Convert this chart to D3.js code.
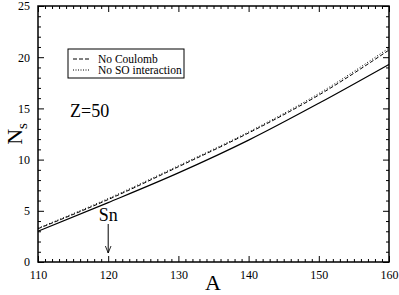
<!DOCTYPE html>
<html>
<head>
<meta charset="utf-8">
<script src="https://cdn.jsdelivr.net/npm/d3@7"></script>
<style>
  body { margin: 0; background: #fff; }
  svg { display: block; }
</style>
</head>
<body>
<div id="chart"></div>
<script>
// data
const massNumbers = [110, 120, 130, 140, 150, 160];
const fullModel   = [3.0, 5.8, 8.7, 11.9, 15.5, 19.3];
const noCoulomb   = [3.25, 6.1, 9.3, 12.6, 16.3, 20.7];
const noSpinOrbit = [3.3, 6.2, 9.4, 12.7, 16.45, 20.9];
const xTicks = [110, 120, 130, 140, 150, 160];
const yTicks = [0, 5, 10, 15, 20, 25];

const width = 399, height = 295;
const margin = { top: 6, right: 10, bottom: 33, left: 38 };
const serif = "Liberation Serif";

const svg = d3.select("#chart").append("svg")
    .attr("width", width)
    .attr("height", height)
    .attr("font-family", serif);

const x = d3.scaleLinear().domain([110, 160]).range([margin.left, width - margin.right]);
const y = d3.scaleLinear().domain([0, 25]).range([height - margin.bottom, margin.top]);

// ticks, inward on all four sides
const minorX = d3.range(110, 161, 1).filter(v => v % 10 !== 0);
const minorY = d3.range(0, 26, 1).filter(v => v % 5 !== 0);

const axes = [
    { gen: d3.axisBottom(x), at: `translate(0,${y(0)})`, labels: true, ticks: xTicks, minor: minorX },
    { gen: d3.axisTop(x), at: `translate(0,${y(25)})`, labels: false, ticks: xTicks, minor: minorX },
    { gen: d3.axisLeft(y), at: `translate(${x(110)},0)`, labels: true, ticks: yTicks, minor: minorY },
    { gen: d3.axisRight(y), at: `translate(${x(160)},0)`, labels: false, ticks: yTicks, minor: minorY }
];

axes.forEach(a => {
    const g = svg.append("g").attr("transform", a.at);
    g.call(a.gen.tickValues(a.minor).tickSize(-3).tickFormat(""));
    g.select(".domain").remove();
    g.selectAll("line").attr("stroke", "#000").attr("stroke-width", 1);
    const gm = svg.append("g").attr("transform", a.at);
    gm.call(a.gen.tickValues(a.ticks).tickSize(-6).tickPadding(8)
        .tickFormat(a.labels ? d3.format("d") : ""));
    gm.attr("font-family", serif).attr("font-size", 12);
    gm.select(".domain").remove();
    gm.selectAll("line").attr("stroke", "#000").attr("stroke-width", 1);
    gm.selectAll("text").attr("fill", "#000");
});

// frame
svg.append("rect")
    .attr("x", x(110)).attr("y", y(25))
    .attr("width", x(160) - x(110)).attr("height", y(0) - y(25))
    .attr("fill", "none").attr("stroke", "#000").attr("stroke-width", 1.5);

// curves
const line = d3.line().curve(d3.curveMonotoneX);
const series = [
    { vals: noSpinOrbit, dash: "1,2", w: 1 },
    { vals: noCoulomb, dash: "4,2", w: 1 },
    { vals: fullModel, dash: null, w: 1.2 }
];
series.forEach(s => {
    svg.append("path")
        .attr("d", line(massNumbers.map((m, i) => [x(m), y(s.vals[i])])))
        .attr("fill", "none")
        .attr("stroke", "#000")
        .attr("stroke-width", s.w)
        .attr("stroke-dasharray", s.dash);
});

// legend
const legend = svg.append("g");
legend.append("rect")
    .attr("x", 68).attr("y", 49).attr("width", 116).attr("height", 29)
    .attr("fill", "#fff").attr("stroke", "#000").attr("stroke-width", 1);
const legendItems = [
    { label: "No Coulomb", dash: "4,2", ly: 59 },
    { label: "No SO interaction", dash: "1,1.5", ly: 70 }
];
legendItems.forEach(it => {
    legend.append("line")
        .attr("x1", 73).attr("x2", 90).attr("y1", it.ly).attr("y2", it.ly)
        .attr("stroke", "#000").attr("stroke-width", 1)
        .attr("stroke-dasharray", it.dash);
    legend.append("text")
        .attr("x", 98).attr("y", it.ly + 4)
        .attr("font-size", 11.5)
        .text(it.label);
});

// annotations
svg.append("text").attr("x", 70).attr("y", 117).attr("font-size", 18).text("Z=50");
svg.append("text").attr("x", x(120)).attr("y", 221).attr("font-size", 18)
    .attr("text-anchor", "middle").text("Sn");

svg.append("defs").append("marker")
    .attr("id", "arrow").attr("viewBox", "0 0 10 10")
    .attr("refX", 10).attr("refY", 5)
    .attr("markerWidth", 7).attr("markerHeight", 7)
    .attr("orient", "auto")
    .append("path").attr("d", "M0,1 L10,5 L0,9").attr("fill", "none").attr("stroke", "#000").attr("stroke-width", 1.2);

svg.append("line")
    .attr("x1", x(120)).attr("x2", x(120))
    .attr("y1", 224).attr("y2", 253)
    .attr("stroke", "#000").attr("stroke-width", 1)
    .attr("marker-end", "url(#arrow)");

// axis titles
svg.append("text").attr("x", 213).attr("y", 290).attr("font-size", 22)
    .attr("text-anchor", "middle").text("A");
const yl = svg.append("text")
    .attr("transform", `translate(22,${(y(0) + y(25)) / 2}) rotate(-90)`)
    .attr("text-anchor", "middle")
    .attr("font-size", 22);
yl.append("tspan").text("N");
yl.append("tspan").attr("font-size", 15).attr("dy", 5).text("s");
</script>
</body>
</html>
